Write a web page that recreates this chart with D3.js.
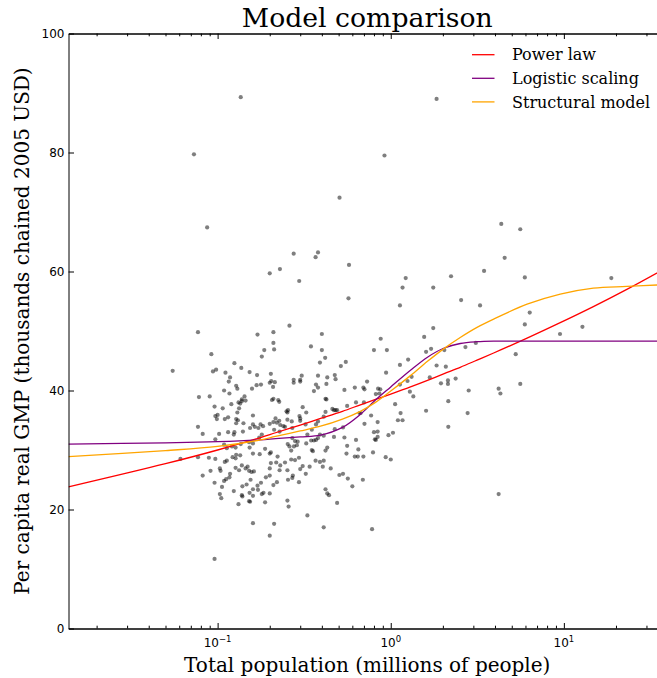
<!DOCTYPE html>
<html>
<head>
<meta charset="utf-8">
<script src="https://cdn.jsdelivr.net/npm/d3@7"></script>
<style>
  body { margin: 0; background: #fff; }
  svg { display: block; }
</style>
</head>
<body>
<svg id="chart" width="657" height="678"></svg>
<script>
// cities: [population in millions, per capita GMP in thousands]
var cities = [
  [0.136,89.3],[1.84,89.0],[0.073,79.7],[0.92,79.5],[0.087,67.4],[0.506,72.4],
  [0.275,63.0],[0.38,63.2],[0.368,62.4],[0.20,59.7],[0.229,60.4],[0.296,58.4],[0.574,61.1],[0.57,55.5],
  [0.26,50.9],[0.077,49.8],[0.17,49.4],[0.21,49.8],[0.21,48.0],[0.186,46.8],[0.212,46.9],[0.18,45.7],
  [0.40,49.5],[0.346,47.4],[0.40,46.8],[0.418,45.5],[0.39,44.7],[0.55,44.8],[0.515,44.1],
  [0.092,46.1],[0.055,43.3],[0.094,43.2],[0.098,43.5],[0.111,43.0],[0.125,44.6],[0.137,43.8],[0.153,43.1],[0.169,42.6],[0.203,42.8],
  [0.118,42.2],[0.116,41.5],[0.109,40.0],[0.128,40.8],[0.130,40.3],[0.158,40.3],[0.168,40.9],[0.178,41.0],
  [0.20,41.3],[0.204,41.6],[0.214,41.4],[0.209,40.6],
  [0.275,41.8],[0.275,41.3],[0.30,41.8],[0.306,42.5],[0.30,41.5],
  [0.38,42.5],[0.43,42.2],[0.475,42.6],[0.48,41.9],[0.37,41.0],[0.38,40.5],[0.425,41.1],[0.36,39.9],[0.54,40.1],[0.62,40.5],
  [0.078,38.9],[0.09,39.0],[0.138,38.5],[0.143,39.0],[0.21,38.6],[0.42,38.6],[0.425,38.5],
  [0.096,37.3],[0.097,35.7],[0.10,35.9],[0.107,37.0],[0.12,37.7],[0.132,38.0],[0.138,38.2],[0.145,38.3],[0.133,37.0],[0.099,35.2],
  [0.110,35.2],[0.115,35.5],[0.128,35.2],[0.131,35.0],[0.128,34.5],[0.141,34.5],
  [0.16,35.8],[0.16,34.3],[0.177,34.3],[0.183,34.0],[0.20,34.4],[0.21,34.7],[0.227,34.9],[0.23,34.2],[0.245,33.9],[0.212,33.4],[0.228,33.1],
  [0.255,36.7],[0.253,36.3],[0.30,35.3],[0.297,35.7],[0.31,37.2],[0.325,36.3],[0.37,34.3],[0.38,34.8],[0.41,35.6],
  [0.46,36.9],[0.47,36.7],[0.48,36.7],[0.49,36.7],[0.56,37.4],[0.63,38.0],[0.70,38.0],
  [0.077,33.9],[0.082,32.7],[0.097,31.8],[0.102,32.7],[0.115,33.0],[0.124,32.6],[0.125,33.0],
  [0.14,33.1],[0.154,33.7],[0.164,33.9],[0.172,33.7],[0.18,32.6],
  [0.109,30.9],[0.113,30.3],[0.121,30.6],[0.127,30.4],[0.136,31.0],
  [0.153,30.4],[0.152,31.3],[0.16,31.1],[0.174,32.1],[0.188,30.2],[0.20,29.4],[0.203,29.6],[0.175,29.3],[0.16,29.4],
  [0.254,31.0],[0.26,30.6],[0.27,32.0],[0.28,31.5],[0.276,30.6],[0.29,31.4],
  [0.325,31.1],[0.355,29.8],[0.36,31.6],[0.39,32.6],[0.38,32.0],[0.43,30.4],[0.42,29.9],
  [0.47,32.2],[0.54,32.1],[0.56,30.7],[0.555,29.4],[0.63,31.7],[0.65,30.1],[0.67,36.2],
  [0.061,28.5],
  [0.077,28.8],[0.089,28.7],[0.082,25.7],[0.091,26.5],[0.096,24.5],[0.103,22.6],[0.105,21.9],[0.106,23.8],[0.109,24.8],[0.112,25.1],
  [0.117,25.4],[0.118,26.0],[0.104,26.5],[0.103,26.9],[0.110,28.0],[0.113,28.2],[0.122,28.8],[0.127,28.6],[0.128,29.2],[0.135,29.1],
  [0.127,27.0],[0.133,26.6],[0.145,26.9],[0.149,27.2],[0.138,27.4],[0.152,26.5],[0.157,26.3],[0.162,26.4],[0.155,25.0],
  [0.138,22.4],[0.139,22.2],[0.152,21.4],[0.154,21.3],[0.139,23.9],[0.147,24.2],[0.16,23.4],[0.17,24.0],[0.171,23.3],[0.18,22.6],
  [0.178,24.5],[0.19,25.4],[0.20,25.7],[0.188,21.2],[0.20,26.9],
  [0.16,17.7],[0.212,17.6],[0.20,15.6],[0.096,11.7],
  [0.203,27.8],[0.218,27.9],[0.222,28.9],[0.23,27.4],[0.245,27.9],[0.253,26.6],[0.266,28.4],[0.27,25.3],
  [0.21,24.1],[0.22,24.6],[0.253,21.5],[0.257,20.5],[0.272,25.7],[0.295,24.6],[0.30,26.8],[0.323,26.0],[0.34,27.2],[0.33,19.0],
  [0.368,28.2],[0.39,28.0],[0.41,28.2],[0.405,27.2],[0.41,17.0],[0.42,23.4],[0.43,22.7],[0.44,22.4],[0.45,26.9],[0.49,21.1],
  [0.505,25.8],[0.565,25.2],[0.60,23.9],[0.645,28.9],
  [0.097,28.5],[0.124,23.1],[0.132,20.9],[0.153,22.8],[0.16,22.3],[0.20,22.7],[0.184,22.8],
  [0.117,39.5],[0.135,37.8],[0.13,36.3],[0.224,38.4],[0.206,38.4],
  [0.875,48.7],[0.80,46.8],[0.95,46.8],[1.13,44.3],[0.695,40.5],[0.705,40.2],[0.73,41.5],[0.82,39.4],[0.86,39.5],[0.845,40.3],
  [0.227,38.1],[0.25,36.5],[0.42,36.4],[0.77,35.8],[1.06,37.7],[1.14,36.2],[1.17,35.0],
  [0.216,35.3],[0.253,35.1],[0.268,34.8],[0.30,34.9],[0.322,34.3],[0.27,33.7],[0.24,34.0],[0.22,34.6],
  [0.35,33.4],[0.33,32.6],[0.347,31.6],[0.37,31.7],[0.41,32.4],[0.475,33.5],[0.53,33.8],[0.66,36.2],[0.705,34.4],[0.80,33.0],
  [0.81,31.8],[0.84,32.2],[0.97,32.5],[1.03,32.9],[1.10,35.0],
  [0.287,30.8],[0.266,29.9],[0.295,28.7],[0.35,30.0],[0.62,28.9],[0.695,28.9],[0.79,29.6],[0.935,28.8],[1.0,28.4],
  [0.28,28.3],[0.228,26.6],[0.31,27.3],[0.255,25.0],[0.53,26.0],[0.69,25.0],[0.78,16.7],
  [4.35,68.0],[5.6,67.1],[4.55,62.3],[3.46,60.1],[2.23,59.2],[1.22,58.9],[1.17,57.3],[1.76,57.3],[5.95,59.0],[18.8,58.9],
  [2.55,55.2],[3.28,54.3],[1.13,54.3],[6.35,53.1],[5.95,51.1],[12.8,50.7],[9.5,49.5],[1.76,50.5],[1.56,49.0],
  [1.60,46.5],[1.71,47.0],[2.7,47.3],[3.1,48.0],[5.27,46.1],[0.94,43.0],[1.84,44.2],[2.08,44.0],[1.26,45.2],[1.32,42.3],
  [1.13,41.0],[1.25,41.6],[1.29,39.8],[1.35,39.0],[1.95,41.2],[2.14,41.7],[2.14,41.1],[2.37,42.0],[1.68,42.2],[2.82,40.0],
  [2.15,38.2],[4.2,40.3],[4.3,39.5],[5.6,41.1],[0.87,40.2],[1.60,36.6],[2.15,33.9],[2.78,36.2],[4.2,22.6],[2.04,46.8],
  [0.84,34.7],[0.84,33.1],[0.82,31.7]
];

// model curves at these populations
var curvePop   = [0.01376, 0.05, 0.1, 0.177, 0.216, 0.3, 0.393, 0.526, 0.668, 0.816, 1.0, 1.3, 1.63, 2.02, 2.52, 3.15, 3.93, 6.13, 9.53, 14.8, 23.1, 38.9];
var powerLaw   = [23.8, 27.7, 30.0, 32.1, 32.9, 34.2, 35.3, 36.5, 37.6, 38.5, 39.4, 40.6, 41.7, 42.8, 43.9, 45.1, 46.3, 48.8, 51.4, 54.1, 57.0, 60.6];
var logistic   = [31.0, 31.2, 31.4, 31.7, 31.9, 32.2, 32.5, 33.8, 36.0, 38.4, 40.6, 43.4, 45.6, 47.1, 47.9, 48.2, 48.3, 48.3, 48.3, 48.3, 48.3, 48.3];
var structural = [28.9, 29.9, 30.6, 31.7, 32.3, 33.2, 34.0, 35.2, 36.5, 38.0, 39.9, 42.5, 44.9, 47.0, 48.9, 50.6, 52.0, 54.5, 56.2, 57.2, 57.5, 57.8];

var modelNames  = ["Power law", "Logistic scaling", "Structural model"];
var modelColors = ["#ff0000", "#800080", "#ffa500"];
var yTicks = [0, 20, 40, 60, 80, 100];
var xMajor = [0.1, 1, 10];

(function () {
  var svg = d3.select("#chart");
  var serif = "'DejaVu Serif', serif";
  var sans = "'DejaVu Sans', sans-serif";

  var plotLeft = 68.5, plotRight = 666, plotTop = 33.5, plotBottom = 628.5;

  var x = d3.scaleLog().domain([0.01376, 38.9]).range([plotLeft, plotRight]);
  var y = d3.scaleLinear().domain([0, 100]).range([plotBottom, plotTop]);

  svg.append("clipPath").attr("id", "plot")
    .append("rect")
    .attr("x", plotLeft).attr("y", plotTop)
    .attr("width", plotRight - plotLeft).attr("height", plotBottom - plotTop);

  // scatter
  svg.append("g")
    .attr("clip-path", "url(#plot)")
    .selectAll("circle")
    .data(cities)
    .enter().append("circle")
    .attr("cx", function (d) { return x(d[0]); })
    .attr("cy", function (d) { return y(d[1]); })
    .attr("r", 2.1)
    .attr("fill", "#000")
    .attr("fill-opacity", 0.5);

  // model lines
  var line = d3.line()
    .x(function (d) { return x(d[0]); })
    .y(function (d) { return y(d[1]); })
    .curve(d3.curveCatmullRom.alpha(0.5));

  [powerLaw, logistic, structural].forEach(function (vals, i) {
    var pts = curvePop.map(function (p, j) { return [p, vals[j]]; });
    svg.append("path")
      .attr("clip-path", "url(#plot)")
      .attr("d", line(pts))
      .attr("fill", "none")
      .attr("stroke", modelColors[i])
      .attr("stroke-width", 1.3);
  });

  // minor ticks for the log axis
  var xMinor = [];
  [0.01, 0.1, 1, 10].forEach(function (dec) {
    for (var k = 2; k <= 9; k++) {
      var v = dec * k;
      if (v > x.domain()[0] && v < x.domain()[1]) xMinor.push(v);
    }
  });

  function styleAxis(g) {
    g.select(".domain").attr("stroke", "#000").attr("stroke-width", 1);
    g.selectAll(".tick line").attr("stroke", "#000").attr("stroke-width", 1);
  }

  // bottom
  svg.append("g").attr("transform", "translate(0," + plotBottom + ")")
    .call(d3.axisBottom(x).tickValues(xMajor).tickSizeInner(-5.5).tickSizeOuter(0).tickFormat(""))
    .call(styleAxis);
  svg.append("g").attr("transform", "translate(0," + plotBottom + ")")
    .call(d3.axisBottom(x).tickValues(xMinor).tickSizeInner(-2.8).tickSizeOuter(0).tickFormat(""))
    .call(styleAxis);
  // top
  svg.append("g").attr("transform", "translate(0," + plotTop + ")")
    .call(d3.axisTop(x).tickValues(xMajor).tickSizeInner(-5.5).tickSizeOuter(0).tickFormat(""))
    .call(styleAxis);
  svg.append("g").attr("transform", "translate(0," + plotTop + ")")
    .call(d3.axisTop(x).tickValues(xMinor).tickSizeInner(-2.8).tickSizeOuter(0).tickFormat(""))
    .call(styleAxis);
  // left
  svg.append("g").attr("transform", "translate(" + plotLeft + ",0)")
    .call(d3.axisLeft(y).tickValues(yTicks).tickSizeInner(-5.5).tickSizeOuter(0).tickPadding(4))
    .call(styleAxis)
    .selectAll("text")
    .attr("font-family", sans).attr("font-size", 12).attr("fill", "#000");

  // x tick labels as powers of ten
  xMajor.forEach(function (v) {
    var t = svg.append("text")
      .attr("x", x(v)).attr("y", 647)
      .attr("text-anchor", "middle")
      .attr("font-family", sans).attr("font-size", 12);
    t.append("tspan").text("10");
    t.append("tspan").attr("dy", -5).attr("font-size", 8.5)
      .text(String(Math.round(Math.log10(v))).replace("-", "\u2212"));
  });

  // title and axis labels
  svg.append("text")
    .attr("x", (plotLeft + plotRight) / 2).attr("y", 27)
    .attr("text-anchor", "middle")
    .attr("font-family", serif).attr("font-size", 26.7)
    .text("Model comparison");

  svg.append("text")
    .attr("x", (plotLeft + plotRight) / 2).attr("y", 672)
    .attr("text-anchor", "middle")
    .attr("font-family", serif).attr("font-size", 20)
    .text("Total population (millions of people)");

  svg.append("text")
    .attr("transform", "translate(29," + ((plotTop + plotBottom) / 2) + ") rotate(-90)")
    .attr("text-anchor", "middle")
    .attr("font-family", serif).attr("font-size", 20)
    .text("Per capita real GMP (thousands chained 2005 USD)");

  // legend
  var legend = svg.append("g");
  modelNames.forEach(function (name, i) {
    var ly = 54.7 + i * 23.6;
    legend.append("line")
      .attr("x1", 472).attr("x2", 494.5)
      .attr("y1", ly).attr("y2", ly)
      .attr("stroke", modelColors[i]).attr("stroke-width", 1.3);
    legend.append("text")
      .attr("x", 512).attr("y", ly).attr("dy", "0.35em")
      .attr("font-family", serif).attr("font-size", 16)
      .text(name);
  });
})();
</script>
</body>
</html>
